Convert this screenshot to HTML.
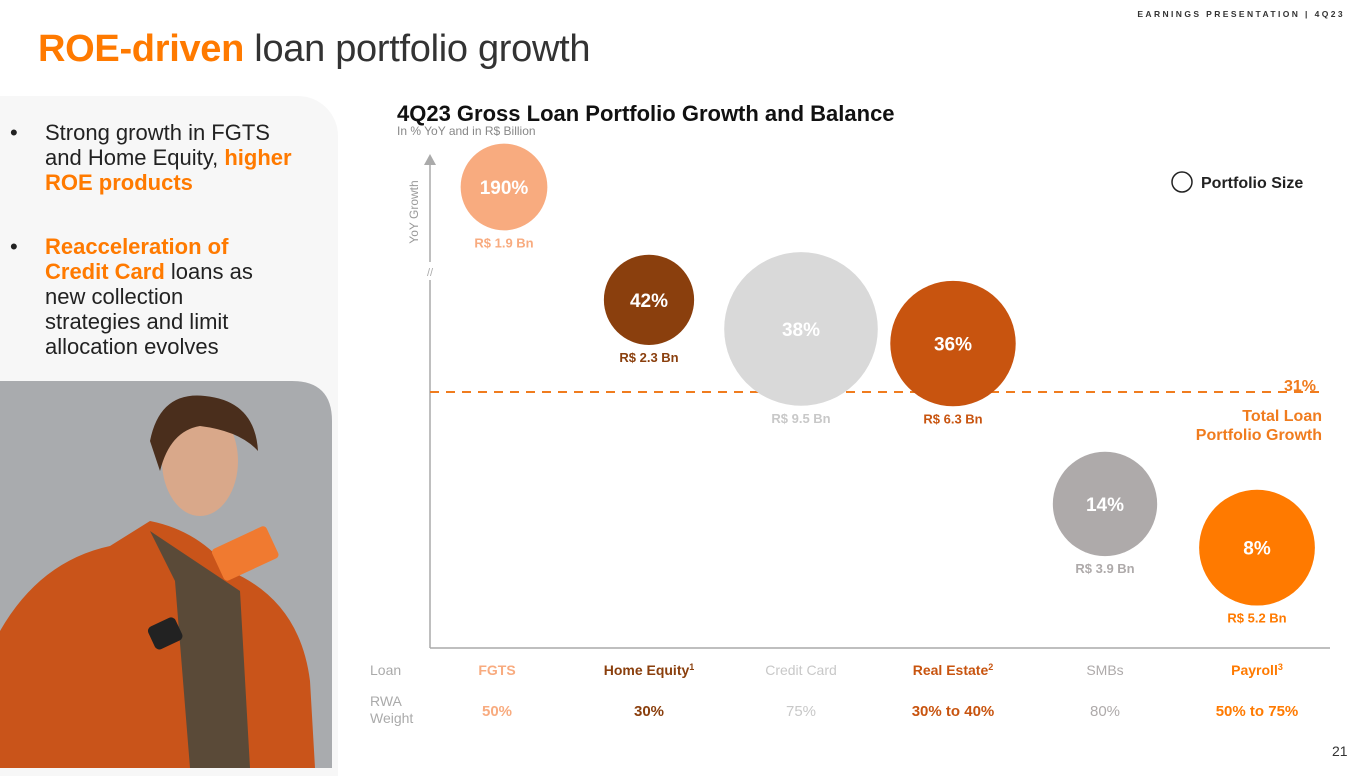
<!DOCTYPE html>
<html><head><meta charset="utf-8"><style>
*{margin:0;padding:0;box-sizing:border-box}
body{width:1365px;height:768px;background:#fff;font-family:"Liberation Sans",sans-serif;position:relative;overflow:hidden;color:#222}
.abs{position:absolute}
.b{font-weight:bold}
.o{color:#ff7a00}
</style></head><body>
<div class="abs" style="right:20px;top:9px;font-size:8.5px;letter-spacing:2.4px;color:#333;font-weight:bold">EARNINGS PRESENTATION | 4Q23</div>
<div class="abs" style="left:38px;top:28px;font-size:38px;color:#333;letter-spacing:-0.3px"><span class="b o">ROE-driven</span> loan portfolio growth</div>
<div class="abs" style="left:0;top:96px;width:338px;height:680px;background:#f7f7f7;border-radius:0 40px 0 0"></div>
<div class="abs" style="left:10px;top:120px;font-size:22px;line-height:25px;color:#222;width:330px">
<div style="position:relative;padding-left:35px"><span style="position:absolute;left:0">•</span>Strong growth in FGTS<br>and Home Equity, <span class="b o">higher<br>ROE products</span></div>
<div style="position:relative;padding-left:35px;margin-top:39px"><span style="position:absolute;left:0">•</span><span class="b o">Reacceleration of<br>Credit Card</span> loans as<br>new collection<br>strategies and limit<br>allocation evolves</div>
</div>
<svg class="abs" style="left:0;top:381px" width="335" height="387">
<path d="M0 0 H292 Q332 0 332 40 V387 H0 Z" fill="#a9abae"/>
<path d="M0 250 Q40 180 110 165 L150 140 Q200 150 230 190 Q300 220 310 300 L315 387 H0 Z" fill="#c9541a"/>
<path d="M150 150 L175 200 L190 387 L250 387 L240 210 Z" fill="#5a4a38"/>
<ellipse cx="200" cy="80" rx="38" ry="55" fill="#d9a88a"/>
<path d="M150 60 Q160 10 205 15 Q255 20 258 70 Q240 50 200 45 Q170 50 160 90 Z" fill="#4a2e1c"/>
<rect x="215" y="155" width="60" height="35" rx="4" fill="#f07a30" transform="rotate(-25 245 172)"/>
<rect x="150" y="240" width="30" height="25" rx="5" fill="#222" transform="rotate(-25 165 252)"/>
</svg>
<div class="abs b" style="left:397px;top:101px;font-size:22px;color:#111">4Q23 Gross Loan Portfolio Growth and Balance</div>
<div class="abs" style="left:397px;top:124px;font-size:12px;color:#888">In % YoY and in R$ Billion</div>
<svg class="abs" id="chart" style="left:0;top:0" width="1365" height="768"></svg>
<div class="abs" style="left:1332px;top:743px;font-size:14px;color:#333">21</div>
<script>
const categories=["FGTS","Home Equity","Credit Card","Real Estate","SMBs","Payroll"];
const supers=["","1","","2","","3"];
const growth=[190,42,38,36,14,8];
const balance=[1.9,2.3,9.5,6.3,3.9,5.2];
const rwa=["50%","30%","75%","30% to 40%","80%","50% to 75%"];
const colors=["#f8ab7f","#8a3f0d","#d9d9d9","#c8540f","#aeaaaa","#ff7a00"];
const labelColors=["#f8ab7f","#8a3f0d","#c8c8c8","#c8540f","#aeaaaa","#ff7a00"];
const totalGrowth=31;
const NS="http://www.w3.org/2000/svg";
const svg=document.getElementById('chart');
function xs(i){return 497+i*152;}
function ys(v){return v>100?187:606-7.29*v;}
function rs(b){return 35+4.4*b;}
function el(t,a,txt){const e=document.createElementNS(NS,t);for(const k in a)e.setAttribute(k,a[k]);if(txt!==undefined)e.textContent=txt;svg.appendChild(e);return e;}
let e;
e=el('line',{x1:430,y1:165,x2:430,y2:648,stroke:'#aaa','stroke-width':1.5});


e=el('path',{d:'M424 165 L430 154 L436 165 Z',fill:'#aaa'});


e=el('rect',{x:424,y:262,width:12,height:18,fill:'#fff'});


e=el('text',{x:430,y:276,'font-size':11,fill:'#aaa','text-anchor':'middle','font-family':'Liberation Sans'},'//');


e=el('line',{x1:430,y1:648,x2:1330,y2:648,stroke:'#aaa','stroke-width':1.5});


e=el('text',{x:0,y:0,'font-size':12,fill:'#999','text-anchor':'middle',transform:'translate(418,212) rotate(-90)','font-family':'Liberation Sans'},'YoY Growth');


const ty=392;
e=el('line',{x1:430,y1:ty,x2:1320,y2:ty,stroke:'#f07c1e','stroke-width':2,'stroke-dasharray':'9,7'});


e=el('text',{x:1316,y:ty-1,'font-size':16,'font-weight':'bold',fill:'#f07c1e','text-anchor':'end','font-family':'Liberation Sans'},totalGrowth+'%');


e=el('text',{x:1322,y:ty+29,'font-size':16,'font-weight':'bold',fill:'#f07c1e','text-anchor':'end','font-family':'Liberation Sans'},'Total Loan');


e=el('text',{x:1322,y:ty+48,'font-size':16,'font-weight':'bold',fill:'#f07c1e','text-anchor':'end','font-family':'Liberation Sans'},'Portfolio Growth');


e=el('circle',{cx:1182,cy:182,r:10,fill:'none',stroke:'#222','stroke-width':1.5});


e=el('text',{x:1201,y:188,'font-size':16,'font-weight':'bold',fill:'#222','font-family':'Liberation Sans'},'Portfolio Size');


categories.forEach((c,i)=>{
  const cx=xs(i)+(i===0?7:0),cy=ys(growth[i]),r=rs(balance[i]);
  let b=el('circle',{cx:cx,cy:cy,r:r,fill:colors[i]});
  
  
  let t=el('text',{x:cx,y:cy+7,'font-size':19,'font-weight':'bold',fill:'#fff','text-anchor':'middle','font-family':'Liberation Sans'},growth[i]+'%');
  
  
  t=el('text',{x:cx,y:cy+r+17,'font-size':13,'font-weight':'bold',fill:labelColors[i],'text-anchor':'middle','font-family':'Liberation Sans'},'R$ '+balance[i]+' Bn');
  
  
  t=el('text',{x:xs(i),y:675,'font-size':14,'font-weight':i===2||i===4?'normal':'bold',fill:labelColors[i],'text-anchor':'middle','font-family':'Liberation Sans'},c);
  
  
  if(supers[i]){const s=document.createElementNS(NS,'tspan');s.setAttribute('font-size',9);s.setAttribute('dy',-5);s.textContent=supers[i];t.appendChild(s);}
  t=el('text',{x:xs(i),y:716,'font-size':15,'font-weight':i===2||i===4?'normal':'bold',fill:labelColors[i],'text-anchor':'middle','font-family':'Liberation Sans'},rwa[i]);
  
  
});
e=el('text',{x:370,y:675,'font-size':14,fill:'#aaa','font-family':'Liberation Sans'},'Loan');


e=el('text',{x:370,y:706,'font-size':14,fill:'#aaa','font-family':'Liberation Sans'},'RWA');


e=el('text',{x:370,y:723,'font-size':14,fill:'#aaa','font-family':'Liberation Sans'},'Weight');


</script>
</body></html>
